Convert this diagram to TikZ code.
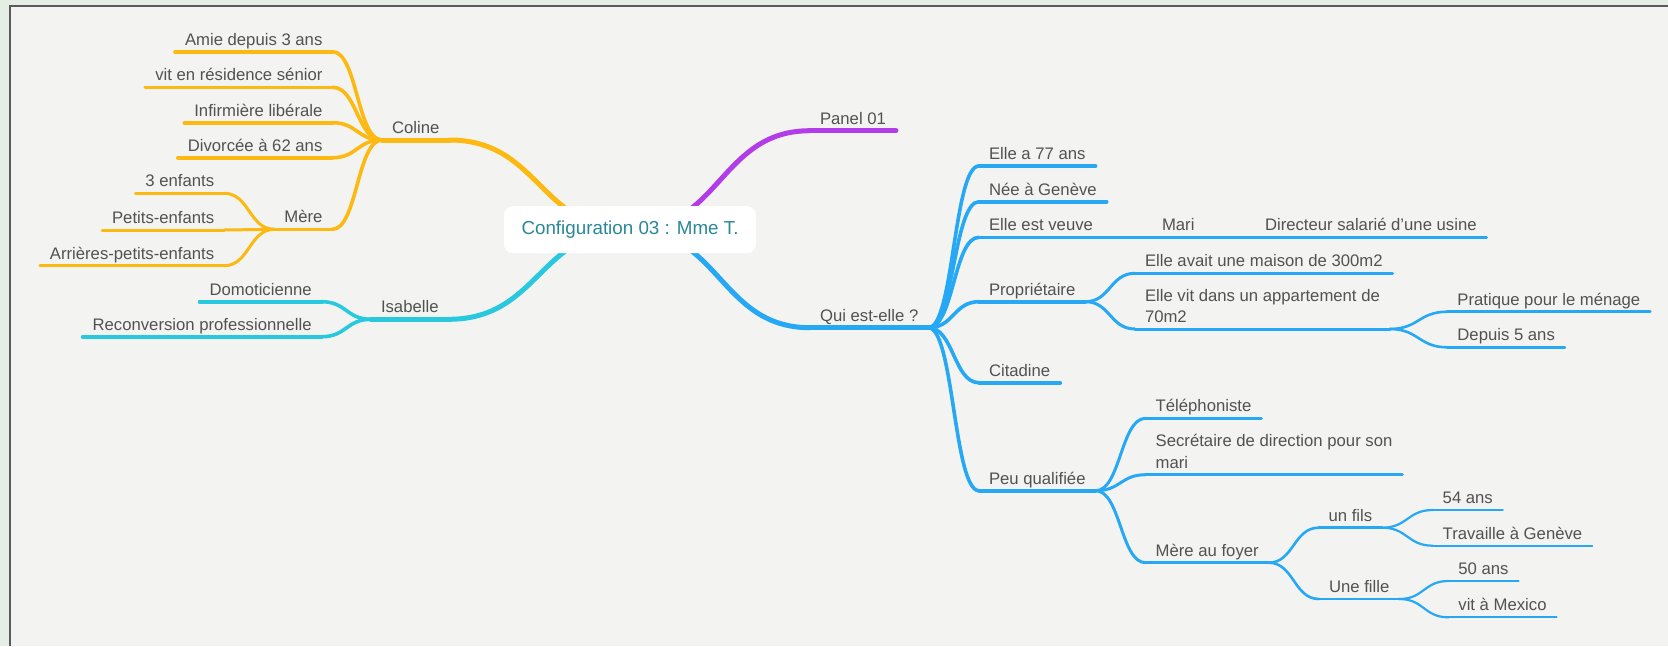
\documentclass[tikz,border=0pt]{standalone}
\usepackage{fontspec}
\setmainfont{Liberation Sans}
\usetikzlibrary{calc}
\definecolor{bgc}{RGB}{243,244,241}
\definecolor{outerc}{RGB}{228,238,229}
\definecolor{framec}{RGB}{90,90,90}
\definecolor{txt}{RGB}{82,82,82}
\definecolor{orangeb}{RGB}{252,185,18}
\definecolor{purpleb}{RGB}{178,60,232}
\definecolor{cyanb}{RGB}{40,201,222}
\definecolor{blueb}{RGB}{38,168,245}
\definecolor{tealt}{RGB}{42,135,152}
\pgfdeclarelayer{back}
\pgfdeclarelayer{links}
\pgfsetlayers{back,links,main}
\newcommand\conn[3]{%
  \draw[#1] let \p1=(#2), \p2=(#3) in (\p1) .. controls ({0.5*\x1+0.5*\x2},\y1) and ({0.5*\x1+0.5*\x2},\y2) .. (\p2);}
\newcommand\uline[2]{\draw[#1] (#2.south west) -- (#2.south east);}
\tikzset{
  topic/.style={anchor=south west, inner xsep=10pt, inner ysep=6.5pt, text depth=0pt, outer sep=0pt,
    font=\fontsize{16.7}{21.5}\selectfont, text=txt},
  ltopic/.style={topic, anchor=south east},
  central/.style={fill=white, rounded corners=9pt, minimum width=252pt, minimum height=47pt, inner sep=0pt,
    font=\fontsize{18.8}{22}\selectfont, text=tealt},
  lA/.style={line width=5pt, line cap=round},
  lB/.style={line width=3.6pt, line cap=round},
  lC/.style={line width=3pt, line cap=round},
  lD/.style={line width=2.6pt, line cap=round},
  lE/.style={line width=2.2pt, line cap=round},
}
\begin{document}
\begin{tikzpicture}[x=1pt,y=-1pt]
\useasboundingbox (0,0) rectangle (1668,646);
\begin{pgfonlayer}{back}
\fill[outerc] (0,0) rectangle (1668,646);
\fill[bgc] (9,5) rectangle (1668,646);
\draw[framec, line width=2pt] (10,646) -- (10,6) -- (1668,6);
\end{pgfonlayer}

% central
\node[central] (c) at (630,229.7) {Configuration 03 : Mme T.};

% left: Coline
\node[topic] (coline) at (382,140) {Coline};
\node[ltopic] (amie) at (332.4,51.7) {Amie depuis 3 ans};
\node[ltopic] (vit) at (332.4,87.3) {vit en résidence sénior};
\node[ltopic] (infi) at (332.4,122.7) {Infirmière libérale};
\node[ltopic] (divo) at (332.4,157.7) {Divorcée à 62 ans};
\node[ltopic] (mere) at (332.4,229.3) {Mère};
\node[ltopic] (enf) at (224.2,193.3) {3 enfants};
\node[ltopic] (petits) at (224.2,230) {Petits-enfants};
\node[ltopic] (arr) at (224.2,265.7) {Arrières-petits-enfants};
% left: Isabelle
\node[topic] (isa) at (371,319.3) {Isabelle};
\node[ltopic] (domo) at (321.7,301.7) {Domoticienne};
\node[ltopic] (reco) at (321.7,336.7) {Reconversion professionnelle};

% right
\node[topic] (panel) at (810,130.7) {Panel 01};
\node[topic] (qui) at (810,327.7) {Qui est-elle ?};
\node[topic] (age) at (979,166) {Elle a 77 ans};
\node[topic] (nee) at (979,201.7) {Née à Genève};
\node[topic] (veuve) at (979,237.3) {Elle est veuve};
\node[topic] (mari) at (1152,237.3) {Mari};
\node[topic] (dir) at (1255,237.3) {Directeur salarié d’une usine};
\node[topic] (prop) at (979,301.7) {Propriétaire};
\node[topic] (maison) at (1135,273.3) {Elle avait une maison de 300m2};
\node[topic] (appart) at (1135,329) {\begin{tabular}[b]{@{}l@{}}Elle vit dans un appartement de\\70m2\end{tabular}};
\node[topic] (prat) at (1447.4,311.7) {Pratique pour le ménage};
\node[topic] (dep) at (1447.4,347.3) {Depuis 5 ans};
\node[topic] (cit) at (979,382.7) {Citadine};
\node[topic] (peu) at (979,490.7) {Peu qualifiée};
\node[topic] (tel) at (1145.7,418.3) {Téléphoniste};
\node[topic] (sec) at (1145.7,474.7) {\begin{tabular}[b]{@{}l@{}}Secrétaire de direction pour son\\mari\end{tabular}};
\node[topic] (foyer) at (1145.7,562.7) {Mère au foyer};
\node[topic] (fils) at (1318.6,527.7) {un fils};
\node[topic] (a54) at (1432.7,510) {54 ans};
\node[topic] (trav) at (1432.7,545.7) {Travaille à Genève};
\node[topic] (fille) at (1319,599) {Une fille};
\node[topic] (a50) at (1448.4,581) {50 ans};
\node[topic] (mex) at (1448.4,617.3) {vit à Mexico};

\begin{pgfonlayer}{links}
% center branches
\conn{lA,orangeb}{c.center}{coline.south east}
\conn{lA,cyanb}{c.center}{isa.south east}
\conn{lA,purpleb}{c.center}{panel.south west}
\conn{lA,blueb}{c.center}{qui.south west}
\uline{lA,orangeb}{coline}
\uline{lA,cyanb}{isa}
\uline{lA,purpleb}{panel}
\uline{lA,blueb}{qui}
% Coline
\foreach \k in {amie,vit,infi,divo,mere}{
  \conn{lB,orangeb}{coline.south west}{\k.south east}
  \uline{lB,orangeb}{\k}
}
\foreach \k in {enf,petits,arr}{
  \conn{lC,orangeb}{mere.south west}{\k.south east}
  \uline{lC,orangeb}{\k}
}
% Isabelle
\foreach \k in {domo,reco}{
  \conn{lB,cyanb}{isa.south west}{\k.south east}
  \uline{lB,cyanb}{\k}
}
% Qui est-elle
\foreach \k in {age,nee,veuve,prop,cit,peu}{
  \conn{lB,blueb}{qui.south east}{\k.south west}
  \uline{lB,blueb}{\k}
}
\conn{lC,blueb}{veuve.south east}{mari.south west}
\uline{lC,blueb}{mari}
\conn{lD,blueb}{mari.south east}{dir.south west}
\uline{lD,blueb}{dir}
\foreach \k in {maison,appart}{
  \conn{lC,blueb}{prop.south east}{\k.south west}
  \uline{lC,blueb}{\k}
}
\foreach \k in {prat,dep}{
  \conn{lD,blueb}{appart.south east}{\k.south west}
  \uline{lD,blueb}{\k}
}
\foreach \k in {tel,sec,foyer}{
  \conn{lC,blueb}{peu.south east}{\k.south west}
  \uline{lC,blueb}{\k}
}
\foreach \k in {fils,fille}{
  \conn{lD,blueb}{foyer.south east}{\k.south west}
  \uline{lD,blueb}{\k}
}
\foreach \k in {a54,trav}{
  \conn{lE,blueb}{fils.south east}{\k.south west}
  \uline{lE,blueb}{\k}
}
\foreach \k in {a50,mex}{
  \conn{lE,blueb}{fille.south east}{\k.south west}
  \uline{lE,blueb}{\k}
}
\end{pgfonlayer}
\end{tikzpicture}
\end{document}
